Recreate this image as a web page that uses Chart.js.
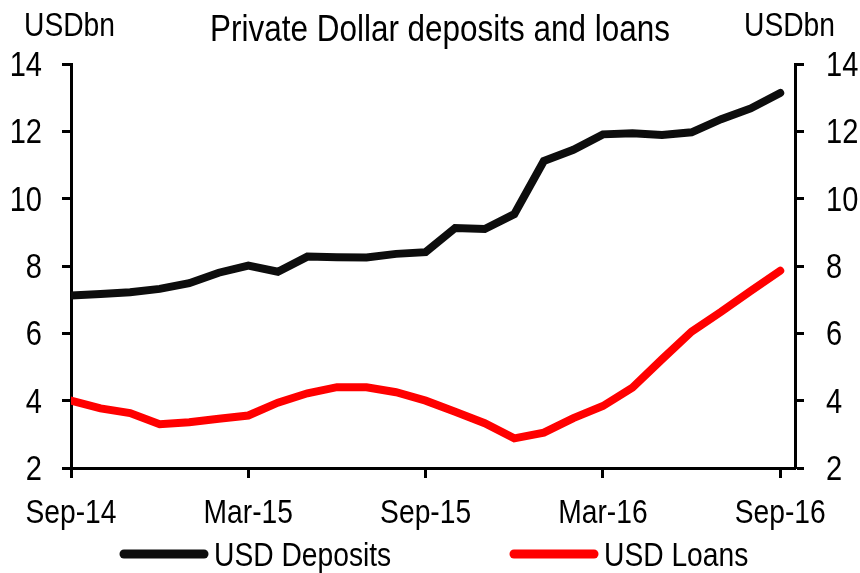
<!DOCTYPE html>
<html>
<head>
<meta charset="utf-8">
<script src="https://cdn.jsdelivr.net/npm/chart.js@4.4.1/dist/chart.umd.min.js"></script>
<style>
  html, body { margin: 0; padding: 0; background: #fff; }
  #chart { display: block; }
</style>
</head>
<body>
<canvas id="chart" width="860" height="573"></canvas>
<script>
// monthly, Sep-14 .. Sep-16
const months = ["Sep-14","Oct-14","Nov-14","Dec-14","Jan-15","Feb-15","Mar-15","Apr-15","May-15","Jun-15","Jul-15","Aug-15",
  "Sep-15","Oct-15","Nov-15","Dec-15","Jan-16","Feb-16","Mar-16","Apr-16","May-16","Jun-16","Jul-16","Aug-16","Sep-16"];
const deposits = [7.12, 7.17, 7.22, 7.32, 7.49, 7.80, 8.01, 7.83, 8.28, 8.26, 8.25, 8.36,
  8.41, 9.13, 9.10, 9.54, 11.12, 11.45, 11.91, 11.94, 11.89, 11.97, 12.36, 12.68, 13.14];
const loans = [4.00, 3.77, 3.63, 3.30, 3.36, 3.46, 3.56, 3.94, 4.22, 4.40, 4.40, 4.25,
  4.00, 3.67, 3.33, 2.88, 3.05, 3.48, 3.84, 4.39, 5.23, 6.05, 6.64, 7.26, 7.86];
const xTickMonths = [0, 6, 12, 18, 24];
const yTicks = [2, 4, 6, 8, 10, 12, 14];

// the reference uses a condensed sans; squeeze Liberation Sans horizontally
const FONT = "'Liberation Sans', Arial, sans-serif";
const SQUEEZE = 0.83;

const toPoints = arr => arr.map((v, i) => ({ x: i, y: v }));

function narrowText(ctx, text, x, y, align, size, sx) {
  ctx.save();
  ctx.font = size + "px " + FONT;
  ctx.textAlign = align;
  ctx.textBaseline = "alphabetic";
  ctx.translate(x, y);
  ctx.scale(sx || SQUEEZE, 1);
  ctx.fillText(text, 0, 0);
  ctx.restore();
}

const labels = {
  id: "labels",
  afterDraw(chart) {
    const ctx = chart.ctx;
    const { x, y, y2 } = chart.scales;
    ctx.save();
    ctx.fillStyle = "#000";

    // axis tick labels
    x.ticks.forEach(t => narrowText(ctx, months[t.value], x.getPixelForValue(t.value), 523, "center", 34));
    y.ticks.forEach(t => narrowText(ctx, String(t.value), 42, y.getPixelForValue(t.value) + 12, "right", 35));
    y2.ticks.forEach(t => narrowText(ctx, String(t.value), 826, y2.getPixelForValue(t.value) + 12, "left", 35));

    // units + title
    narrowText(ctx, "USDbn", 24, 36, "left", 34);
    narrowText(ctx, "USDbn", 835, 36, "right", 34);
    narrowText(ctx, "Private Dollar deposits and loans", 440, 41, "center", 37, 0.85);

    // legend
    const starts = [124, 514];
    chart.data.datasets.forEach((ds, i) => {
      const x0 = starts[i];
      ctx.strokeStyle = ds.borderColor;
      ctx.lineWidth = 9;
      ctx.lineCap = "round";
      ctx.beginPath();
      ctx.moveTo(x0, 554);
      ctx.lineTo(x0 + 80, 554);
      ctx.stroke();
      narrowText(ctx, ds.label, x0 + 90, 566, "left", 34);
    });
    ctx.restore();
  }
};

const tickGrid = { drawOnChartArea: false, drawTicks: true, tickLength: 9, tickWidth: 3, tickColor: "#000" };
const axisBorder = { color: "#000", width: 3 };

new Chart(document.getElementById("chart"), {
  type: "line",
  data: {
    datasets: [
      {
        label: "USD Deposits",
        data: toPoints(deposits),
        borderColor: "#0d0d0d",
        backgroundColor: "#0d0d0d",
        borderWidth: 8,
        borderCapStyle: "round",
        pointRadius: 0,
        tension: 0,
        yAxisID: "y"
      },
      {
        label: "USD Loans",
        data: toPoints(loans),
        borderColor: "#ff0000",
        backgroundColor: "#ff0000",
        borderWidth: 8,
        borderCapStyle: "round",
        pointRadius: 0,
        tension: 0,
        yAxisID: "y"
      }
    ]
  },
  options: {
    responsive: false,
    animation: false,
    layout: { padding: { top: 64, left: 0, right: 0, bottom: 0 } },
    plugins: {
      legend: { display: false },
      tooltip: { enabled: false }
    },
    scales: {
      x: {
        type: "linear",
        min: 0,
        max: 24.5,
        grid: { ...tickGrid, tickLength: 10 },
        border: axisBorder,
        afterBuildTicks: s => { s.ticks = xTickMonths.map(v => ({ value: v })); },
        afterFit: s => { s.height = 105; },
        ticks: { display: false }
      },
      y: {
        position: "left",
        min: 2,
        max: 14,
        grid: tickGrid,
        border: axisBorder,
        afterBuildTicks: s => { s.ticks = yTicks.map(v => ({ value: v })); },
        afterFit: s => { s.width = 71; },
        ticks: { display: false }
      },
      y2: {
        position: "right",
        min: 2,
        max: 14,
        grid: tickGrid,
        border: axisBorder,
        afterBuildTicks: s => { s.ticks = yTicks.map(v => ({ value: v })); },
        afterFit: s => { s.width = 65; },
        ticks: { display: false }
      }
    }
  },
  plugins: [labels]
});
</script>
</body>
</html>
